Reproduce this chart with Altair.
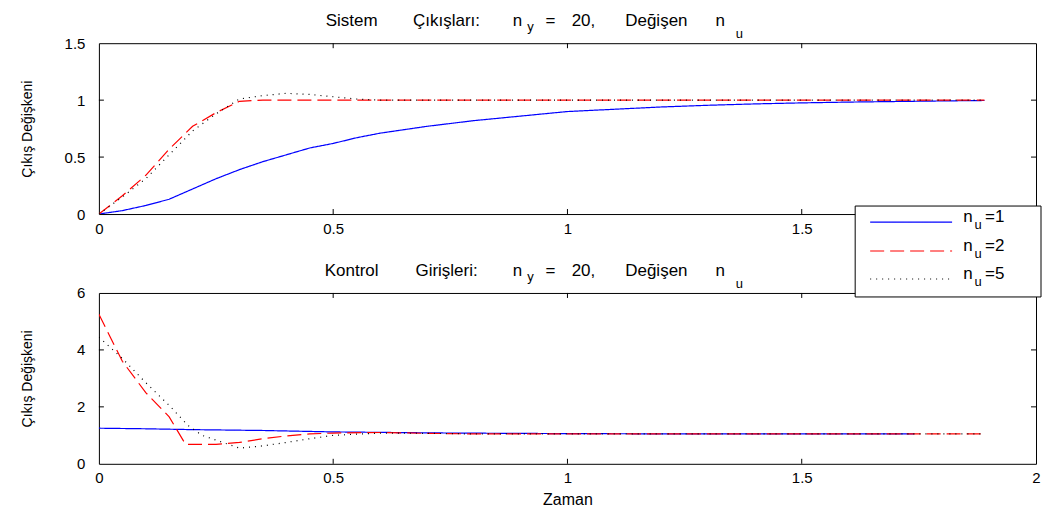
import altair as alt
import pandas as pd

FONT = "Liberation Sans"
SERIES = ["n_u=1", "n_u=2", "n_u=5"]
COLORS = ["#0000ff", "#ff0000", "#000000"]
DASHES = [[1, 0], [14, 6], [1, 5]]

# ---- top panel: system outputs ----
T_OUT = [0, 0.05, 0.1, 0.15, 0.2, 0.25, 0.3, 0.35, 0.4, 0.45, 0.5, 0.55, 0.6,
         0.7, 0.8, 0.9, 1.0, 1.1, 1.2, 1.3, 1.4, 1.5, 1.6, 1.7, 1.8, 1.89]
OUT_NU1 = [0.0, 0.03, 0.075, 0.13, 0.22, 0.31, 0.39, 0.46, 0.52, 0.58, 0.62, 0.67, 0.71,
           0.77, 0.82, 0.86, 0.90, 0.92, 0.94, 0.955, 0.967, 0.976, 0.983, 0.988, 0.993, 0.997]
OUT_NU2 = [0.0, 0.16, 0.34, 0.57, 0.77, 0.89, 0.99, 1.0, 1.0, 1.0, 1.0, 1.0, 1.0,
           1.0, 1.0, 1.0, 1.0, 1.0, 1.0, 1.0, 1.0, 1.0, 1.0, 1.0, 1.0, 1.0]
OUT_NU5 = [0.0, 0.15, 0.31, 0.52, 0.73, 0.88, 1.01, 1.04, 1.06, 1.05, 1.03, 1.01, 1.0,
           1.0, 1.0, 1.0, 1.0, 1.0, 1.0, 1.0, 1.0, 1.0, 1.0, 1.0, 1.0, 1.0]

# ---- bottom panel: control inputs ----
T_IN_1 = [0, 0.1, 0.2, 0.35, 0.5, 0.75, 1.0, 1.25, 1.5, 1.74]
IN_NU1 = [1.25, 1.23, 1.2, 1.17, 1.12, 1.08, 1.06, 1.05, 1.05, 1.05]
T_IN_2 = [0, 0.05, 0.1, 0.15, 0.185, 0.25, 0.3, 0.35, 0.4, 0.45, 0.5, 0.6, 0.7, 0.8,
          1.0, 1.25, 1.5, 1.75, 1.89]
IN_NU2 = [5.25, 3.6, 2.5, 1.65, 0.68, 0.68, 0.75, 0.88, 0.98, 1.05, 1.08, 1.1, 1.07, 1.05,
          1.05, 1.05, 1.05, 1.05, 1.05]
T_IN_5 = [0, 0.05, 0.1, 0.15, 0.19, 0.22, 0.3, 0.35, 0.4, 0.45, 0.5, 0.6, 0.7, 0.8,
          1.0, 1.25, 1.5, 1.75, 1.89]
IN_NU5 = [4.45, 3.7, 2.85, 2.05, 1.35, 1.0, 0.55, 0.63, 0.75, 0.88, 1.0, 1.08, 1.07, 1.05,
          1.05, 1.05, 1.05, 1.05, 1.05]

X_TICKS = [0, 0.5, 1, 1.5, 2]
X_INNER = [0.5, 1, 1.5]
Y_TICKS_TOP = [0, 0.5, 1, 1.5]
Y_INNER_TOP = [0.5, 1]
Y_TICKS_BOT = [0, 2, 4, 6]
Y_INNER_BOT = [2, 4]

TITLE_TOP = ["Sistem", "Çıkışları:", "n", "=", "20,", "Değişen", "n"]
TITLE_BOT = ["Kontrol", "Girişleri:", "n", "=", "20,", "Değişen", "n"]
TITLE_SUBS = ["y", "u"]
Y_TITLE = "Çıkış Değişkeni"
X_TITLE = "Zaman"
LEG_MAIN = "n"
LEG_SUB = "u"
LEG_VALUES = ["=1", "=2", "=5"]

W, H = 938, 171


def frame(ts, vals):
    rows = []
    for s, t, v in zip(SERIES, ts, vals):
        for a, b in zip(t, v):
            rows.append({"t": a, "v": b, "s": s})
    return pd.DataFrame(rows)


df_top = frame([T_OUT, T_OUT, T_OUT], [OUT_NU1, OUT_NU2, OUT_NU5])
df_bot = frame([T_IN_1, T_IN_2, T_IN_5], [IN_NU1, IN_NU2, IN_NU5])

xscale = alt.Scale(domain=[0, 2], nice=False, zero=False)
ONE = alt.Data(values=[{}])


def txt(s, x, y, size, align="center"):
    return alt.Chart(ONE).mark_text(
        text=s, align=align, baseline="alphabetic", font=FONT, fontSize=size, color="black"
    ).encode(x=alt.value(x), y=alt.value(y))


def title_layers(words):
    centers = [253, 348, 419, 452, 485, 558, 622]
    layers = [txt(w, c, -17, 17) for w, c in zip(words, centers)]
    layers.append(txt(TITLE_SUBS[0], 432, -12, 13))
    layers.append(txt(TITLE_SUBS[1], 641, -5, 13))
    return layers


def panel(df, ydom, yticks, yinner, words, xtitle, extra=None):
    yscale = alt.Scale(domain=ydom, nice=False, zero=False)
    xaxis = alt.Axis(values=X_TICKS, labelExpr="'' + datum.value", labelFlush=False,
                     labelPadding=7, title=xtitle if xtitle else "",
                     titleX=W / 2, titleY=36, titleBaseline="middle", titleFontSize=16)
    yaxis = alt.Axis(values=yticks, labelExpr="'' + datum.value", labelPadding=14,
                     title=Y_TITLE, titleX=-71, titleY=H / 2, titleAngle=270,
                     titleAlign="center", titleBaseline="middle", titleFontSize=14)
    lines = alt.Chart(df).mark_line(strokeWidth=1.2, clip=True).encode(
        x=alt.X("t:Q", scale=xscale, axis=xaxis),
        y=alt.Y("v:Q", scale=yscale, axis=yaxis),
        color=alt.Color("s:N", scale=alt.Scale(domain=SERIES, range=COLORS), legend=None),
        strokeDash=alt.StrokeDash("s:N", scale=alt.Scale(domain=SERIES, range=DASHES), legend=None),
    )
    xt = pd.DataFrame({"t": X_INNER})
    yt = pd.DataFrame({"v": yinner})
    rx = alt.X("t:Q", scale=xscale, axis=xaxis)
    ry = alt.Y("v:Q", scale=yscale, axis=yaxis)
    ticks = [
        alt.Chart(xt).mark_rule(color="black").encode(x=rx, y=alt.value(H), y2=alt.value(H - 5)),
        alt.Chart(xt).mark_rule(color="black").encode(x=rx, y=alt.value(0), y2=alt.value(5)),
        alt.Chart(yt).mark_rule(color="black").encode(y=ry, x=alt.value(0), x2=alt.value(5)),
        alt.Chart(yt).mark_rule(color="black").encode(y=ry, x=alt.value(W - 5), x2=alt.value(W)),
    ]
    layers = [lines] + ticks + title_layers(words) + (extra or [])
    return alt.layer(*layers).properties(width=W, height=H)


anchor = alt.Chart(ONE).mark_rule(opacity=0).encode(
    x=alt.value(-98), x2=alt.value(-97), y=alt.value(-42))

legend = [
    alt.Chart(ONE).mark_rect(fill="white", stroke="black", strokeWidth=1).encode(
        x=alt.value(757), x2=alt.value(943), y=alt.value(-87), y2=alt.value(4))
]
rows_y = [-71, -42, -14]
for c, d, yv, lab in zip(COLORS, DASHES, rows_y, LEG_VALUES):
    legend.append(alt.Chart(ONE).mark_rule(color=c, strokeDash=d, strokeWidth=1.2).encode(
        x=alt.value(772), x2=alt.value(854), y=alt.value(yv)))
    legend.append(txt(LEG_MAIN, 870, yv, 17))
    legend.append(txt(LEG_SUB, 880, yv + 7, 13))
    legend.append(txt(lab, 887, yv, 17, align="left"))

top = panel(df_top, [0, 1.5], Y_TICKS_TOP, Y_INNER_TOP, TITLE_TOP, None, [anchor])
bottom = panel(df_bot, [0, 6], Y_TICKS_BOT, Y_INNER_BOT, TITLE_BOT, X_TITLE, legend)

chart = alt.vconcat(top, bottom, spacing=79, bounds="flush").properties(
    padding={"left": 0, "top": 0, "right": 0, "bottom": 0}
).configure_view(stroke="black", strokeWidth=1).configure_axis(
    domain=False, ticks=False, grid=False, labelFont=FONT, labelFontSize=15,
    labelColor="black", titleFont=FONT, titleColor="black", titleFontWeight="normal"
)

chart.save("out.html", embed_options={"renderer": "svg", "actions": False})
